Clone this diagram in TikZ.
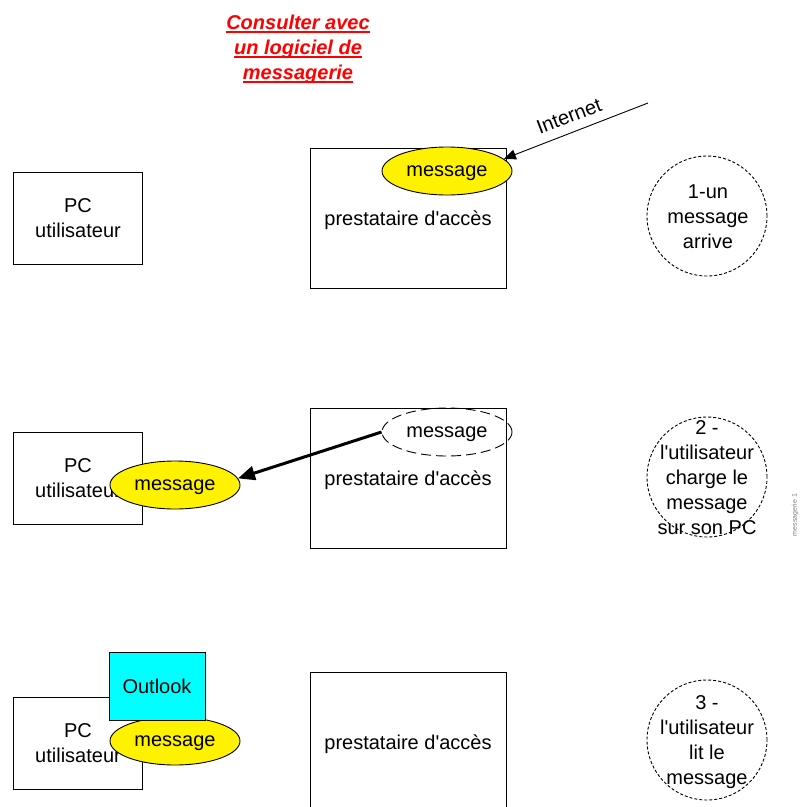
\documentclass[tikz,border=0pt]{standalone}
\usepackage{fontspec}
\setmainfont{Liberation Sans}
\usepackage{tikz}
\usetikzlibrary{arrows.meta,shapes.geometric}
\definecolor{outlookcyan}{RGB}{0,255,255}
\newsavebox\titlebox
\newcommand\ulline[1]{\sbox\titlebox{#1}\rlap{\usebox\titlebox}\rule[-3.5pt]{\wd\titlebox}{1.6pt}}

\begin{document}
\begin{tikzpicture}[x=1pt, y=-1pt, line width=0.9pt,
  font=\fontsize{20}{25}\selectfont,
  pcbox/.style={draw, minimum width=129pt, minimum height=92pt, inner sep=0pt, align=center},
  accbox/.style={draw, minimum width=196pt, minimum height=140pt, inner sep=0pt},
  msg/.style={ellipse, draw, fill=yellow, minimum width=130pt, minimum height=48pt, inner sep=0pt, text depth=0pt},
  msgold/.style={ellipse, draw, dash pattern=on 10pt off 5pt, minimum width=130pt, minimum height=48pt, inner sep=0pt, text depth=0pt},
  stepcircle/.style={circle, draw, dash pattern=on 3pt off 2pt, minimum size=120pt, inner sep=0pt},
  steptext/.style={align=center, inner sep=0pt}]
  % Page: 800 x 807 px, 1px = 1pt, y downwards
  \useasboundingbox (0,0) rectangle (800,807);

  % Title
  \node[font=\fontsize{20}{25}\selectfont\bfseries\itshape, text=red, align=center] (title) at (298,49)
    {\ulline{Consulter avec}\\\ulline{un logiciel de}\\\ulline{messagerie}};

  % Row 1: a message arrives
  \node[pcbox] (pc1) at (78,218) {PC\\utilisateur};
  \node[accbox] (acc1) at (408,218) {};
  \node (acc1txt) at (408,220) {prestataire d\textquotesingle accès};
  \node[msg] (msg1) at (447,171) {message};
  \coordinate (inet) at (648,103);
  \draw[-{Triangle[length=12pt,width=10pt]}] (inet) -- (msg1.12);
  \node[rotate=21, inner sep=1pt] (inetlbl) at (569,116) {Internet};
  \node[stepcircle] (c1) at (707,216) {};
  \node[steptext] (c1txt) at (708,217) {1-un\\message\\arrive};

  % Row 2: the user loads the message
  \node[pcbox] (pc2) at (78,478) {PC\\utilisateur};
  \node[accbox] (acc2) at (408,478) {};
  \node (acc2txt) at (408,480) {prestataire d\textquotesingle accès};
  \node[msgold] (msg2a) at (447,432) {message};
  \node[msg] (msg2b) at (175,485) {message};
  \draw[line width=3pt, -{Triangle[length=17pt,width=14pt]}] (msg2a.west) -- (msg2b.6);
  \node[stepcircle] (c2) at (707,477) {};
  \node[steptext] (c2txt) at (707,478)
    {2 -\\l\textquotesingle utilisateur\\charge le\\message\\sur son PC};

  % Row 3: the user reads the message
  \node[pcbox] (pc3) at (78,743) {PC\\utilisateur};
  \node[msg] (msg3) at (175,741) {message};
  \node[draw, fill=outlookcyan, minimum width=96pt, minimum height=68pt, inner sep=0pt, text depth=0pt] (outlook) at (157,686) {Outlook};
  \node[accbox] (acc3) at (408,742) {};
  \node (acc3txt) at (408,744) {prestataire d\textquotesingle accès};
  \node[stepcircle] (c3) at (707,740) {};
  \node[steptext] (c3txt) at (707,742) {3 -\\l\textquotesingle utilisateur\\lit le\\message};

  % Side tag
  \node[rotate=90, font=\fontsize{7}{8}\selectfont, text=gray] (tag) at (795,515) {messagerie 1};
\end{tikzpicture}
\end{document}
